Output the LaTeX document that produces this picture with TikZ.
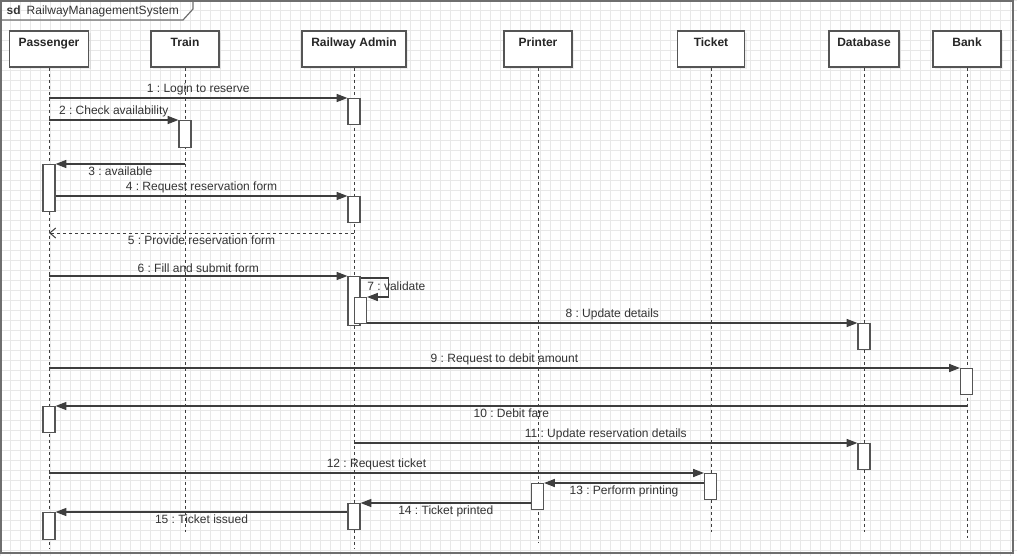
\documentclass[tikz,border=0pt]{standalone}
\usepackage{fontspec}
\setmainfont{Liberation Sans}
\usepackage{tikz}
\usetikzlibrary{calc,arrows.meta,positioning,shadows}
\definecolor{rmsLine}{RGB}{62,62,62}
\definecolor{rmsText}{RGB}{51,51,51}
\definecolor{rmsBox}{RGB}{85,85,85}
\definecolor{rmsFrame}{RGB}{110,110,110}
\definecolor{rmsGrid}{RGB}{232,232,232}
\frenchspacing

\begin{document}
\begin{tikzpicture}[x=0.75pt,y=-0.75pt,
  font=\fontsize{9}{10.8}\selectfont,
  gridline/.style={rmsGrid, line width=0.4pt},
  frame/.style={rmsFrame, line width=0.9pt},
  head/.style={draw=rmsBox, fill=white, line width=0.9pt, minimum height=27pt, inner sep=0pt,
    drop shadow={opacity=0.12, shadow xshift=1.5pt, shadow yshift=-1.5pt},
    label={[font=\fontsize{9}{10.8}\selectfont\bfseries, text=black!85, anchor=base, yshift=-12pt]north:#1}},
  life/.style={rmsLine, line width=0.75pt, dash pattern=on 2.25pt off 2.25pt},
  act/.style={draw=rmsBox, fill=white, line width=0.9pt, minimum width=9pt, minimum height=19.5pt, inner sep=0pt, anchor=north},
  msg/.style={rmsLine, line width=0.8pt, -{Triangle[length=8pt,width=6pt]}},
  reply/.style={rmsLine, line width=0.75pt, dash pattern=on 2.25pt off 2.25pt, -{Straight Barb[length=4.5pt,width=7.5pt]}},
  lbl/.style={text=rmsText, inner sep=2pt}
]
\useasboundingbox (0,0) rectangle (1017,556);

% background grid
\foreach \gx in {0,10,...,1010}{
  \draw[gridline] (\gx,0) -- (\gx,556);
}
\foreach \gy in {0,10,...,550}{
  \draw[gridline] (0,\gy) -- (1017,\gy);
}

% sd frame
\draw[frame] (1,1) rectangle (1013,553);
\draw[frame] (1,20) -- (183,20) -- (193,9) -- (193,1);
\node[anchor=west, text=rmsText] (sdTitle) at (2,11) {\textbf{sd}\hspace{4.5pt}RailwayManagementSystem};

% lifeline heads
\node[head=Passenger, minimum width=59.25pt] (pass) at (49,49) {};
\node[head=Train, minimum width=51pt] (train) at (185,49) {};
\node[head=Railway Admin, minimum width=78pt] (admin) at (354,49) {};
\node[head=Printer, minimum width=51pt] (printer) at (538,49) {};
\node[head=Ticket, minimum width=50.25pt] (ticket) at (711,49) {};
\node[head=Database, minimum width=52.5pt] (db) at (864,49) {};
\node[head=Bank, minimum width=51pt] (bank) at (967,49) {};

\foreach \n/\e in {pass/548,train/532,admin/548,printer/542,ticket/532,db/532,bank/538}{
  \coordinate (\n-end) at (\n.south |- 0,\e);
  \draw[life] (\n) -- (\n-end);
}

% activations
\node[act] (a1) at (354,98) {};
\node[act, minimum height=20.25pt] (t2) at (185,120) {};
\node[act, minimum height=35.25pt] (p3) at (49,164) {};
\node[act] (a4) at (354,196) {};
\node[act, minimum height=36.75pt] (a6) at (354,276) {};
\node[act, minimum height=19.5pt] (a7) at (360.5,297) {};
\node[act] (d8) at (864,323) {};
\node[act] (b9) at (966.5,368) {};
\node[act] (p10) at (49,406) {};
\node[act] (d11) at (864,443) {};
\node[act] (k12) at (710.5,473) {};
\node[act] (r13) at (537.5,483) {};
\node[act] (a14) at (354,503) {};
\node[act, minimum height=20.25pt] (p15) at (49,512) {};
\coordinate (r5) at (admin |- 0,233);

% messages
\draw[msg] (pass |- a1.north) -- node[lbl, above] {1 : Login to reserve} (a1.north west);
\draw[msg] (pass |- t2.north) -- node[lbl, above] {2 : Check availability} (t2.north west);
\draw[msg] (train |- p3.north) -- node[lbl, below] {3 : available} (p3.north east);
\draw[msg] (p3.east |- a4.north) -- node[lbl, above] {4 : Request reservation form} (a4.north west);
\draw[reply] (r5) -- node[lbl, below] {5 : Provide reservation form} (pass |- r5);
\draw[msg] (pass |- a6.north) -- node[lbl, above] {6 : Fill and submit form} (a6.north west);
\draw[msg] ([yshift=-1.5pt]a6.north east) -- ++(28,0) |- (a7.north east);
\node[lbl, anchor=west] (l7) at ([xshift=-2pt, yshift=8.25pt]a7.north east) {7 : validate};
\draw[msg] (a7.east |- d8.north) -- node[lbl, above] {8 : Update details} (d8.north west);
\draw[msg] (pass |- b9.north) -- node[lbl, above] {9 : Request to debit amount} (b9.north west);
\draw[msg] (bank |- p10.north) -- node[lbl, below] {10 : Debit fare} (p10.north east);
\draw[msg] (admin |- d11.north) -- node[lbl, above] {11 : Update reservation details} (d11.north west);
\draw[msg] (pass |- k12.north) -- node[lbl, above] {12 : Request ticket} (k12.north west);
\draw[msg] (k12.west |- r13.north) -- node[lbl, below] {13 : Perform printing} (r13.north east);
\draw[msg] (r13.west |- a14.north) -- node[lbl, below] {14 : Ticket printed} (a14.north east);
\draw[msg] (a14.west |- p15.north) -- node[lbl, below] {15 : Ticket issued} (p15.north east);
\end{tikzpicture}
\end{document}
